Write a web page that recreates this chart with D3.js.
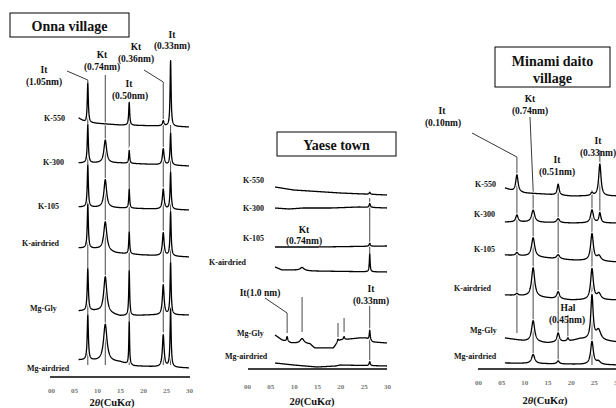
<!DOCTYPE html>
<html><head><meta charset="utf-8">
<script src="https://cdn.jsdelivr.net/npm/d3@7"></script>
<style>
body{margin:0;background:#fff}
svg{display:block}
text{font-family:"Liberation Serif","Times New Roman",serif;font-weight:bold;fill:#111}
</style>
</head><body><svg id="c" width="616" height="408"></svg>
<script>
// ---------- data ----------
const tickValues = [0, 5, 10, 15, 20, 25, 30];
const tickLabels = ["00", "05", "10", "15", "20", "25", "30"];
const sampleNames = ["K-550", "K-300", "K-105", "K-airdried", "Mg-Gly", "Mg-airdried"];

// baseline anchors [2theta, intensity] and peaks [2theta, height, half-width]
const onnaBaselines = [
  [[6,259],[7,256],[7.6,254],[9,254],[15,252],[24,251],[30,250]],
  [[6,214],[15,214],[30,211]],
  [[6,170],[15,169],[30,167]],
  [[6,129],[10,128],[14,124],[20,122],[30,120]],
  [[6,66],[10,66],[15,61],[22,62],[30,62]],
  [[6,17],[15,15],[18,11],[30,9]]
];
const onnaPeaks = [
  [[8.0,40,0.14],[17.0,23,0.13],[24.4,5,0.2],[26.0,66,0.13]],
  [[8.0,38,0.14],[11.8,23,0.35],[17.0,13,0.12],[24.4,16,0.22],[26.0,32,0.14]],
  [[8.0,42,0.14],[11.8,28,0.35],[17.0,19,0.12],[24.4,20,0.22],[26.0,37,0.14]],
  [[8.0,44,0.14],[11.8,29,0.4],[17.0,22,0.12],[24.4,23,0.22],[26.0,44,0.14]],
  [[8.0,42,0.15],[11.8,36,0.4],[17.0,45,0.12],[24.4,30,0.22],[26.0,52,0.14]],
  [[8.0,45,0.15],[11.8,37,0.45],[17.0,43,0.1],[24.4,32,0.22],[26.0,58,0.14]]
];

const yaeseBaselines = [
  [[6,182],[10,179],[20,176],[30,174]],
  [[6,161],[9,160],[12,161],[18,161],[24,162],[30,161]],
  [[6,122],[15,122],[30,123]],
  [[6,102],[7.5,99],[10,99],[14,98],[30,97]],
  [[6,34],[7.5,29],[9.5,26],[13.5,25],[14.5,21],[18.5,21],[19.3,26],[20,29],[24,31],[25.5,31],[27,27],[30,26]],
  [[6,6],[10,4],[15,2],[19,3],[20,4],[30,3]]
];
const yaesePeaks = [
  [[26.3,2,0.15]],
  [[26.3,4,0.15]],
  [[26.3,3,0.15]],
  [[11.8,3,0.5],[26.3,18,0.1]],
  [[8.6,5,0.15],[11.8,5,0.5],[19.5,3,0.15],[20.8,3,0.15],[26.3,10,0.12]],
  [[26.3,4,0.15]]
];

const minamiBaselines = [
  [[5.8,181],[7.5,178],[10,176],[14,175],[20,173],[30,173]],
  [[5.8,147],[10,147],[20,146],[30,146]],
  [[5.8,114],[10,113],[20,109],[30,107]],
  [[5.8,74],[10,73],[20,69],[30,69]],
  [[5.8,31],[10,28],[15,26],[20,28],[22,30],[30,27]],
  [[5.8,6],[30,4]]
];
const minamiPeaks = [
  [[8.4,17,0.3],[17.3,11,0.25],[24.6,3,0.3],[26.3,32,0.3]],
  [[8.4,7,0.3],[11.9,12,0.4],[17.3,4,0.35],[24.6,13,0.35],[26.3,10,0.25]],
  [[8.4,3,0.3],[11.9,19,0.4],[17.3,4,0.4],[24.6,27,0.35],[26.1,5,0.5]],
  [[8.4,2,0.3],[11.9,29,0.4],[17.3,7,0.35],[24.6,31,0.35],[26.1,6,0.5]],
  [[11.9,21,0.4],[17.3,9,0.3],[19.4,3,0.2],[24.6,44,0.3],[26.0,10,0.6]],
  [[11.9,9,0.4],[17.3,3,0.3],[24.6,23,0.35],[26.0,3,0.5]]
];

// ---------- layout ----------
const panels = [
  { title:["Onna village"], box:[10,13,119,24], titleY:[26],
    xr:[51,189], axisY:377, axisExt:[50,190], start:6, pad:11,
    baselines:onnaBaselines, peaks:onnaPeaks,
    labels:[[44,118],[43,162],[38,206],[22,243],[30,308],[27,368]],
    axisTitle:[112,402],
    guides:[[8.0,80,365],[11.8,75,365],[17.0,103,365],[24.4,82,365],[26.0,125,365]],
    leaders:[[67,71,8.0,80],[144,70,24.4,82]],
    annots:[["It",44,70],["(1.05nm)",44,82],["Kt",102,55],["(0.74nm)",102,67],
            ["It",129,84],["(0.50nm)",130,96],["Kt",136,47],["(0.36nm)",136,59],
            ["It",172,35],["(0.33nm)",172,46]] },
  { title:["Yaese town"], box:[277,132,119,24], titleY:[145],
    xr:[247,387], axisY:369, axisExt:[248,387], start:6, pad:15.5,
    baselines:yaeseBaselines, peaks:yaesePeaks,
    labels:[[243,180],[243,208],[243,238],[209,262],[237,333],[225,356]],
    axisTitle:[312,401],
    guides:[[8.6,313,333],[11.8,297,332],[19.5,323,337],[20.8,318,332],[26.3,198,265],[26.3,306,362]],
    leaders:[[265,298,8.6,313]],
    annots:[["Kt",304,230],["(0.74nm)",304,241],["It(1.0 nm)",260,293],
            ["It",371,289],["(0.33nm)",371,301]] },
  { title:["Minami daito","village"], box:[495,47,115,40], titleY:[61,78],
    xr:[478,617], axisY:369, axisExt:[478,617], start:5.8, pad:11.5,
    baselines:minamiBaselines, peaks:minamiPeaks,
    labels:[[475,184],[474,214],[474,249],[454,288],[470,330],[454,356]],
    axisTitle:[545,400],
    guides:[[8.4,157,333],[11.9,190,355],[17.3,190,363],[24.6,190,365],[26.3,150,213],[19.4,315,338]],
    leaders:[[472,133,8.4,157],[530,117,11.9,190]],
    annots:[["It",442,111],["(0.10nm)",443,123],["Kt",530,99],["(0.74nm)",530,111],
            ["It",557,160],["(0.51nm)",557,172],["It",598,141],["(0.33nm)",598,153],
            ["Hal",568,308],["(0.45nm)",567,320]] }
];

const svg = d3.select("#c");
svg.append("rect").attr("width",616).attr("height",408).attr("fill","#fff");

function profile(base, peaks, t) {
  let i = 0;
  while (i < base.length - 2 && t > base[i+1][0]) i++;
  const a = base[i], b = base[i+1];
  const f = Math.max(0, Math.min(1, (t - a[0]) / (b[0] - a[0])));
  let v = a[1] + f * (b[1] - a[1]);
  for (const [c, h, w] of peaks) v += h / (1 + ((t - c) / w) ** 2);
  return v;
}

panels.forEach(p => {
  const g = svg.append("g");
  const x = d3.scaleLinear().domain([0, 30]).range(p.xr);
  const y = d3.scaleLinear().domain([0, 360]).range([p.axisY, p.axisY - 360]);

  // title box
  g.append("rect").attr("x",p.box[0]).attr("y",p.box[1]).attr("width",p.box[2]).attr("height",p.box[3])
    .attr("fill","#fff").attr("stroke","#000").attr("stroke-width",1);
  p.title.forEach((t,i) => g.append("text").attr("x",p.box[0]+p.box[2]/2).attr("y",p.titleY[i])
    .attr("text-anchor","middle").attr("dominant-baseline","central").attr("font-size",14).text(t));

  // guide lines
  g.selectAll(".guide").data(p.guides).join("line")
    .attr("x1",d=>x(d[0])).attr("x2",d=>x(d[0])).attr("y1",d=>d[1]).attr("y2",d=>d[2])
    .attr("stroke","#333").attr("stroke-width",0.9);
  g.selectAll(".lead").data(p.leaders).join("line")
    .attr("x1",d=>d[0]).attr("y1",d=>d[1]).attr("x2",d=>x(d[2])).attr("y2",d=>d[3])
    .attr("stroke","#222").attr("stroke-width",0.9);

  // traces
  const line = d3.line().x(d=>x(d[0])).y(d=>y(d[1]));
  const series = p.baselines.map((b, k) => {
    const pts = [];
    for (let t = p.start; t <= 30.0001; t += 0.03) pts.push([t, profile(b, p.peaks[k], t)]);
    return pts;
  });
  g.selectAll(".halo").data(series).join("path").attr("d",line)
    .attr("fill","none").attr("stroke","#fff").attr("stroke-width",3);
  g.selectAll(".trace").data(series).join("path").attr("d",line)
    .attr("fill","none").attr("stroke","#000").attr("stroke-width",1.3).attr("stroke-linejoin","round");

  // sample labels
  g.selectAll(".lab").data(sampleNames).join("text")
    .attr("x",(d,i)=>p.labels[i][0]).attr("y",(d,i)=>p.labels[i][1])
    .attr("dominant-baseline","central").attr("font-size",8).text(d=>d);

  // annotations
  g.selectAll(".ann").data(p.annots).join("text")
    .attr("x",d=>d[1]).attr("y",d=>d[2]).attr("text-anchor","middle")
    .attr("dominant-baseline","central").attr("font-size",9.5).text(d=>d[0]);

  // axis
  const ax = g.append("g").attr("transform",`translate(0,${p.axisY})`)
    .call(d3.axisBottom(x).tickValues(tickValues).tickFormat((d,i)=>tickLabels[i]).tickSize(0).tickPadding(p.pad));
  ax.select(".domain").remove();
  ax.selectAll("text").attr("font-size",7).style("fill","#777")
    .attr("font-family","'Liberation Serif',serif").attr("font-weight","bold");
  g.append("line").attr("x1",p.axisExt[0]).attr("x2",p.axisExt[1]).attr("y1",p.axisY).attr("y2",p.axisY)
    .attr("stroke","#000").attr("stroke-width",1.5);

  const at = g.append("text").attr("x",p.axisTitle[0]).attr("y",p.axisTitle[1])
    .attr("text-anchor","middle").attr("dominant-baseline","central").attr("font-size",10.5);
  at.append("tspan").text("2");
  at.append("tspan").attr("font-style","italic").text("θ");
  at.append("tspan").text("(CuK");
  at.append("tspan").attr("font-style","italic").text("α");
  at.append("tspan").text(")");
});
</script>
</body></html>
